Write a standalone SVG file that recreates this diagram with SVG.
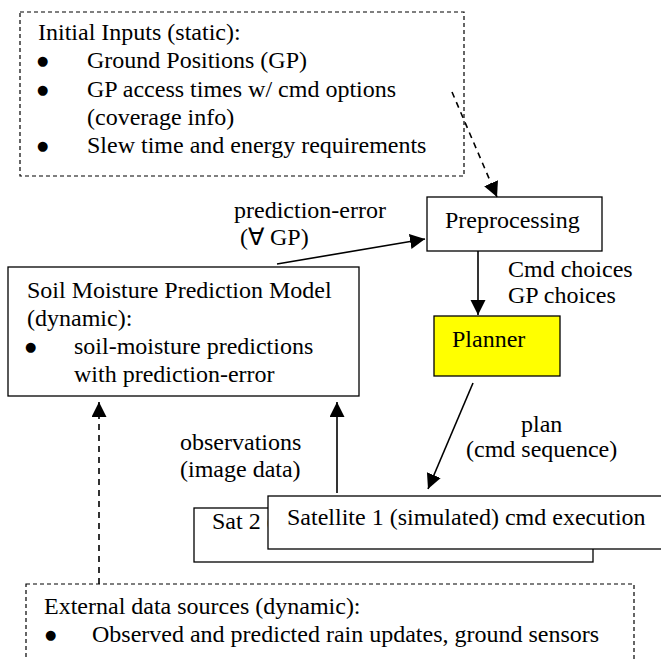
<svg xmlns="http://www.w3.org/2000/svg" width="661" height="659" viewBox="0 0 661 659">
<defs>
<style>
text{font-family:"Liberation Serif","Times New Roman",serif;font-size:24px;fill:#000}
text.b{font-family:"DejaVu Sans",sans-serif;font-size:13px}
.box{fill:#fff;stroke:#000;stroke-width:1.3}
.dbox{fill:none;stroke:#000;stroke-width:1.2;stroke-dasharray:4 3}
.conn{fill:none;stroke:#000;stroke-width:1.6}
.dash{stroke-dasharray:6 5}
</style>
<marker id="ah" markerUnits="userSpaceOnUse" markerWidth="16" markerHeight="16" refX="15" refY="7.5" orient="auto">
<path d="M0,0 L15,7.5 L0,15 z" fill="#000"/>
</marker>
</defs>
<rect width="661" height="659" fill="#fff"/>

<g id="initial-inputs">
<rect class="dbox" x="20" y="12" width="444" height="164"/>
<text x="38" y="40">Initial Inputs (static):</text>
<text class="b" x="37" y="65">●</text><text x="87" y="68">Ground Positions (GP)</text>
<text class="b" x="37" y="94">●</text><text x="87" y="97">GP access times w/ cmd options</text>
<text x="87" y="125">(coverage info)</text>
<text class="b" x="37" y="150">●</text><text x="87" y="153">Slew time and energy requirements</text>
</g>

<g id="preprocessing">
<rect class="box" x="427" y="197" width="175" height="54"/>
<text x="445" y="228">Preprocessing</text>
</g>

<g id="soil-moisture-model">
<rect class="box" x="8" y="267" width="351" height="129"/>
<text x="27" y="298">Soil Moisture Prediction Model</text>
<text x="27" y="326">(dynamic):</text>
<text class="b" x="25" y="351">●</text><text x="74" y="354">soil-moisture predictions</text>
<text x="74" y="382">with prediction-error</text>
</g>

<g id="planner">
<rect x="434" y="316" width="126" height="60" fill="#ffff00" stroke="#000" stroke-width="1.3"/>
<text x="452" y="347">Planner</text>
</g>

<g id="sat2">
<rect class="box" x="194" y="508" width="399" height="54"/>
<text x="212" y="529">Sat 2 (</text>
</g>

<g id="sat1">
<rect class="box" x="268" y="496" width="400" height="53"/>
<text x="287" y="525">Satellite 1 (simulated) cmd execution</text>
</g>

<g id="external-data">
<rect class="dbox" x="26" y="584" width="608" height="90"/>
<text x="44" y="614">External data sources (dynamic):</text>
<text class="b" x="45" y="639">●</text><text x="92" y="642">Observed and predicted rain updates, ground sensors</text>
</g>

<g id="connectors">
<line class="conn dash" x1="452" y1="92" x2="497" y2="197" marker-end="url(#ah)"/>
<line class="conn" x1="277" y1="264" x2="425" y2="239" marker-end="url(#ah)"/>
<line class="conn" x1="478" y1="251" x2="478" y2="315" marker-end="url(#ah)"/>
<line class="conn" x1="473" y1="383" x2="428" y2="489" marker-end="url(#ah)"/>
<line class="conn" x1="337" y1="493" x2="337" y2="402" marker-end="url(#ah)"/>
<line class="conn dash" x1="99" y1="584" x2="99" y2="402" marker-end="url(#ah)"/>
</g>

<g id="labels">
<text x="234" y="218">prediction-error</text>
<text x="240" y="245">(∀ GP)</text>
<text x="508" y="277">Cmd choices</text>
<text x="508" y="303">GP choices</text>
<text x="521" y="432">plan</text>
<text x="466" y="457">(cmd sequence)</text>
<text x="180" y="450">observations</text>
<text x="180" y="477">(image data)</text>
</g>
</svg>
